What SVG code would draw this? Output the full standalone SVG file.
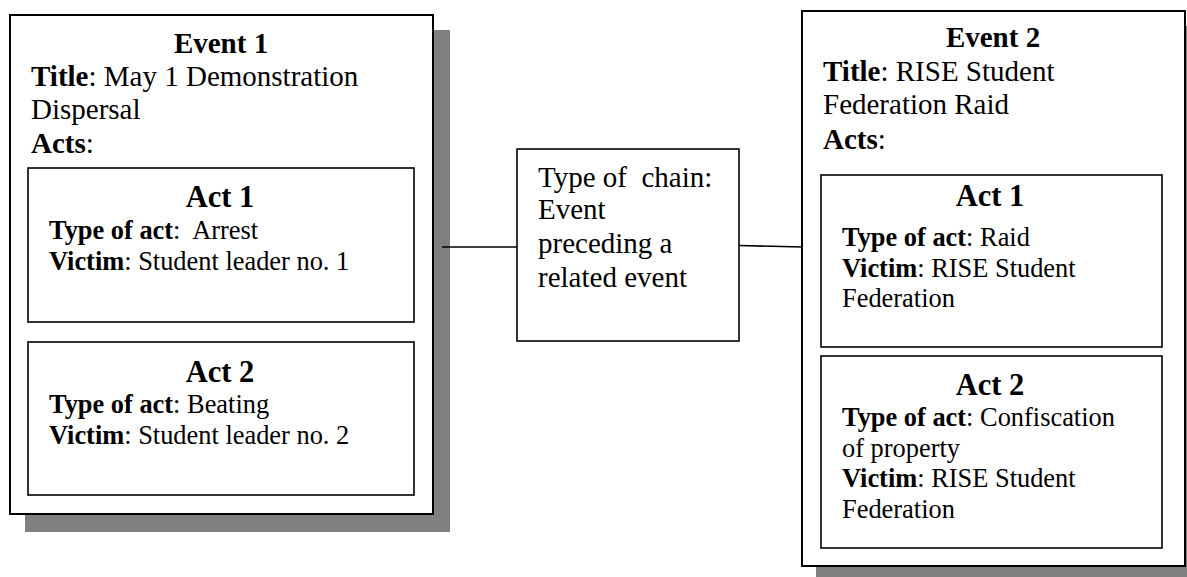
<svg xmlns="http://www.w3.org/2000/svg" width="1187" height="577" viewBox="0 0 1187 577">
<style>
text{font-family:"Liberation Serif","Times New Roman",serif;fill:#000}
.ev{font-size:29px}
.at{font-size:30.5px;font-weight:bold}
.ab{font-size:26.4px}
.b{font-weight:bold}
.shadow{fill:#808080}
.evbox{fill:#fff;stroke:#000;stroke-width:2}
.actbox{fill:#fff;stroke:#000;stroke-width:1.6}
.conn{stroke:#000;stroke-width:1.6;fill:none}
</style>
<rect width="1187" height="577" fill="#fff"/>
<g id="event1">
<rect class="shadow" x="25" y="30" width="425" height="502"/>
<rect class="evbox" x="10" y="15" width="423" height="499"/>
<text class="ev b" x="221" y="53" text-anchor="middle">Event 1</text>
<text class="ev" x="31" y="86"><tspan class="b">Title</tspan>: May 1 Demonstration</text>
<text class="ev" x="31" y="119">Dispersal</text>
<text class="ev" x="31" y="153"><tspan class="b">Acts</tspan>:</text>
</g>
<g id="event1-act1">
<rect class="actbox" x="28" y="168" width="386" height="154"/>
<text class="at" x="220" y="207" text-anchor="middle">Act 1</text>
<text class="ab" x="49" y="239" xml:space="preserve"><tspan class="b">Type of act</tspan>:  Arrest</text>
<text class="ab" x="49" y="270"><tspan class="b">Victim</tspan>: Student leader no. 1</text>
</g>
<g id="event1-act2">
<rect class="actbox" x="28" y="342" width="386" height="153"/>
<text class="at" x="220" y="382" text-anchor="middle">Act 2</text>
<text class="ab" x="49" y="413"><tspan class="b">Type of act</tspan>: Beating</text>
<text class="ab" x="49" y="444"><tspan class="b">Victim</tspan>: Student leader no. 2</text>
</g>
<g id="chain">
<rect class="actbox" x="517" y="149" width="222" height="192"/>
<text class="ev" x="538" y="187" xml:space="preserve">Type of  chain:</text>
<text class="ev" x="538" y="219">Event</text>
<text class="ev" x="538" y="253">preceding a</text>
<text class="ev" x="538" y="287">related event</text>
</g>
<g id="event2">
<rect class="shadow" x="816" y="26" width="380" height="560"/>
<rect class="evbox" x="802" y="11" width="383" height="555"/>
<text class="ev b" x="993" y="47" text-anchor="middle">Event 2</text>
<text class="ev" x="823" y="81"><tspan class="b">Title</tspan>: RISE Student</text>
<text class="ev" x="823" y="114">Federation Raid</text>
<text class="ev" x="823" y="149"><tspan class="b">Acts</tspan>:</text>
</g>
<g id="event2-act1">
<rect class="actbox" x="821" y="175" width="341" height="172"/>
<text class="at" x="990" y="206" text-anchor="middle">Act 1</text>
<text class="ab" x="842" y="246"><tspan class="b">Type of act</tspan>: Raid</text>
<text class="ab" x="842" y="277"><tspan class="b">Victim</tspan>: RISE Student</text>
<text class="ab" x="842" y="307">Federation</text>
</g>
<g id="event2-act2">
<rect class="actbox" x="821" y="356" width="341" height="192"/>
<text class="at" x="990" y="395" text-anchor="middle">Act 2</text>
<text class="ab" x="842" y="426"><tspan class="b">Type of act</tspan>: Confiscation</text>
<text class="ab" x="842" y="457">of property</text>
<text class="ab" x="842" y="487"><tspan class="b">Victim</tspan>: RISE Student</text>
<text class="ab" x="842" y="518">Federation</text>
</g>
<g id="connectors">
<line class="conn" x1="442" y1="247" x2="517" y2="247"/>
<line class="conn" x1="739" y1="245.5" x2="802" y2="247"/>
</g>
</svg>
